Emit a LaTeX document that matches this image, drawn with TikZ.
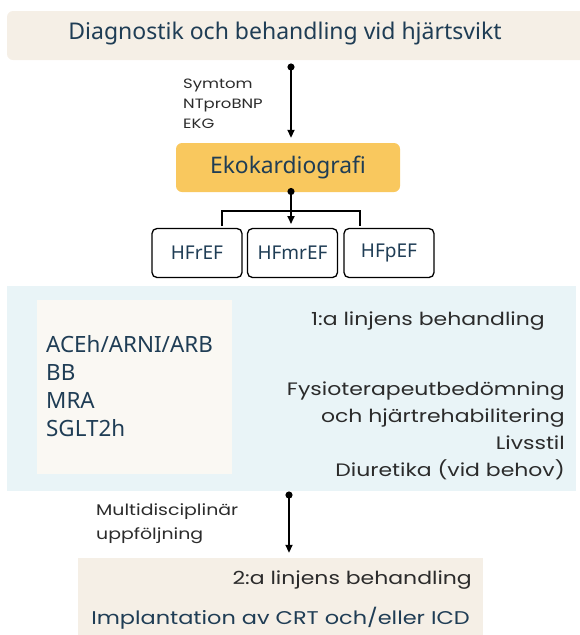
\documentclass[tikz,border=0pt]{standalone}
\usepackage{fontspec}
\setmainfont{Noto Sans}
\newfontfamily\gothic[FakeStretch=1.22]{Poppins}
\usetikzlibrary{arrows.meta}
\definecolor{sand}{HTML}{F5EFE6}
\definecolor{amber}{HTML}{F9C85E}
\definecolor{icy}{HTML}{E9F4F7}
\definecolor{cream}{HTML}{FAF8F3}
\definecolor{navytext}{HTML}{1F3D55}
\definecolor{inktext}{HTML}{2B2B2B}
\tikzset{
	band/.style={fill=sand, draw=none, rounded corners=6pt},
	hfbox/.style={draw=black, line width=1.3pt, rounded corners=5pt, minimum width=90pt, minimum height=49pt,
		font=\fontsize{19}{19}\selectfont, text=navytext},
	flow/.style={line width=1.8pt, {Circle[length=7pt]}-{Triangle[length=8pt,width=7pt]}},
	gothictext/.style={font=\gothic\fontsize{#1}{#1}\selectfont, text=inktext, inner sep=0pt},
	drugtext/.style={font=\fontsize{22.4}{22.4}\selectfont, text=navytext, inner sep=0pt, anchor=base west}
}

\begin{document}
\begin{tikzpicture}[x=1pt, y=-1pt]
	\useasboundingbox (0,0) rectangle (580,635);

	% rubrik
	\node[band, minimum width=600pt, minimum height=49pt] (head) at (307,35.5) {};
	\node[font=\fontsize{23}{23}\selectfont, text=navytext, inner sep=0pt, anchor=base] (headtext) at (285,39.5) {Diagnostik och behandling vid hjärtsvikt};

	% diagnostik
	\coordinate (diagstart) at (291,63.5);
	\node[fill=amber, rounded corners=6pt, minimum width=224pt, minimum height=49pt,
		font=\fontsize{22.8}{22.8}\selectfont, text=navytext] (eko) at (288,167.5) {Ekokardiografi};
	\draw[flow, shorten >=5pt] (diagstart) -- (diagstart |- eko.north);
	\node[gothictext=13.5, anchor=base west] (symtom) at (183,88) {Symtom};
	\node[gothictext=13.5, anchor=base west] (ntpro) at (183,108) {NTproBNP};
	\node[gothictext=13.5, anchor=base west] (ekg) at (183,128) {EKG};

	% typer av hjärtsvikt
	\node[hfbox] (hfr) at (197,253) {HFrEF};
	\node[hfbox] (hfmr) at (292.5,253) {HFmrEF};
	\node[hfbox] (hfp) at (389,253) {HFpEF};
	\coordinate (brleft) at (222,226);
	\coordinate (brright) at (360,226);
	\draw[line width=1.3pt] (brleft) -- ++(0,-15) -| (brright);
	\draw[flow, shorten <=-3.5pt, shorten >=4pt] (291,191.5) -- (291,228);

	% 1:a linjen
	\node[fill=icy, minimum width=569pt, minimum height=205pt, inner sep=0pt] (firstline) at (291.5,388.5) {};
	\node[fill=cream, minimum width=195pt, minimum height=174pt, inner sep=0pt] (drugs) at (134.5,387) {};
	\node[drugtext] (acei) at (46,352) {ACEh/ARNI/ARB};
	\node[drugtext] (bb) at (46,380) {BB};
	\node[drugtext] (mra) at (46,408) {MRA};
	\node[drugtext] (sglt) at (46,436) {SGLT2h};
	\node[gothictext=18, anchor=base east] (firsttitle) at (545,325) {1:a linjens behandling};
	\node[gothictext=18, anchor=base east] (fysio) at (565,395) {Fysioterapeutbedömning};
	\node[gothictext=18, anchor=base east] (rehab) at (565,422) {och hjärtrehabilitering};
	\node[gothictext=18, anchor=base east] (livsstil) at (565,449) {Livsstil};
	\node[gothictext=18, anchor=base east] (diuretika) at (565,476) {Diuretika (vid behov)};

	% 2:a linjen
	\node[fill=sand, minimum width=405pt, minimum height=90pt, inner sep=0pt] (secondline) at (280.5,603) {};
	\coordinate (followstart) at (289,491.5);
	\draw[flow, shorten >=5pt] (followstart) -- (followstart |- secondline.north);
	\node[gothictext=15.5, anchor=base west] (multi) at (96,515) {Multidisciplinär};
	\node[gothictext=15.5, anchor=base west] (uppf) at (96,539) {uppföljning};
	\node[gothictext=18, anchor=base east] (secondtitle) at (472,584) {2:a linjens behandling};
	\node[gothictext=18.4, anchor=base east, text=navytext] (icd) at (470,624) {Implantation av CRT och/eller ICD};
\end{tikzpicture}
\end{document}
